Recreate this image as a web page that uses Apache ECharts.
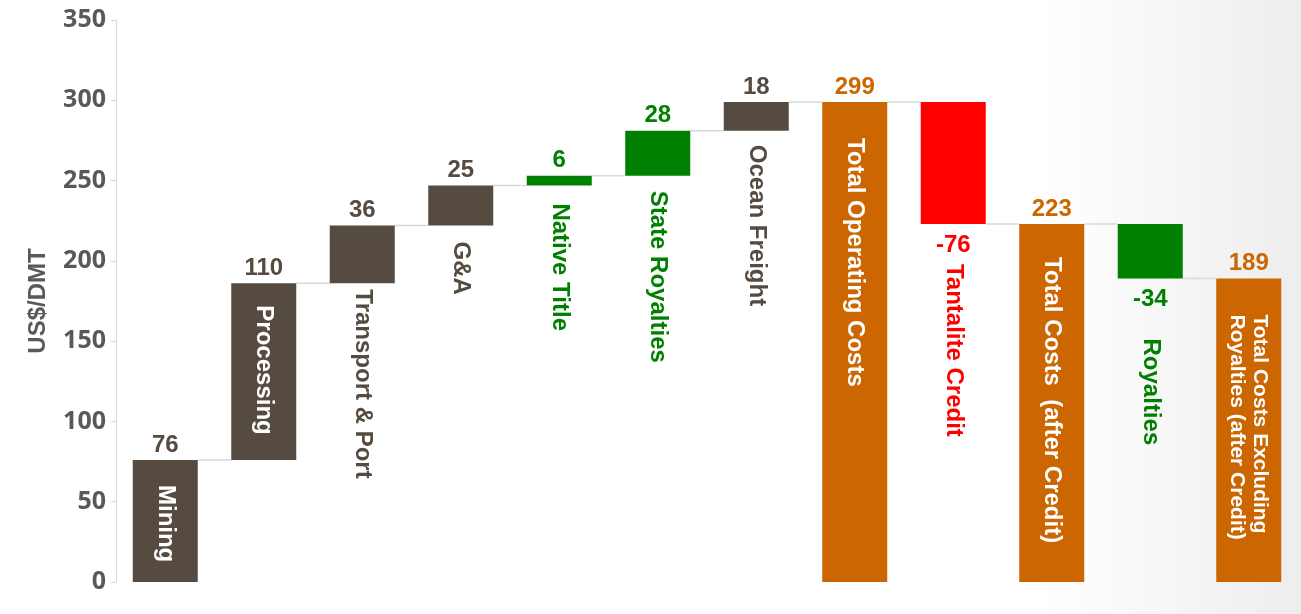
<!DOCTYPE html>
<html>
<head>
<meta charset="utf-8">
<script src="https://cdn.jsdelivr.net/npm/echarts@6/dist/echarts.min.js"></script>
<style>
    html, body { margin: 0; padding: 0; background: #fff; }
    #chart { width: 1301px; height: 614px; }
</style>
</head>
<body>
<div id="chart"></div>
<script>
    // 数据
    var categories = ['Mining', 'Processing', 'Transport & Port', 'G&A', 'Native Title', 'State Royalties',
        'Ocean Freight', 'Total Operating Costs', 'Tantalite Credit', 'Total Costs  (after Credit)',
        'Royalties', 'Total Costs Excluding\nRoyalties (after Credit)'];
    var amounts = [76, 110, 36, 25, 6, 28, 18, 299, -76, 223, -34, 189];
    var isTotal = [false, false, false, false, false, false, false, true, false, true, false, true];
    var yTicks = [0, 50, 100, 150, 200, 250, 300, 350];

    // 样式
    var BROWN = '#554b40', GREEN = '#008000', RED = '#ff0000', ORANGE = '#cc6600';
    var barColors = [BROWN, BROWN, BROWN, BROWN, GREEN, GREEN, BROWN, ORANGE, RED, ORANGE, GREEN, ORANGE];
    var labelInside = [true, true, false, false, false, false, false, true, false, true, false, true];
    var labelDist = [25, 22, 6, 16, 18, 15, 14, 36, 40, 33, 60, 36];
    var labelSize = [24, 24, 24, 24, 24, 24, 24, 24, 24, 24, 24, 21];
    var catFont = "'Liberation Sans', Arial, sans-serif";
    var valFont = "'Liberation Sans', Arial, sans-serif";

    // 瀑布图: 底座 + 可见柱 + 顶部
    var base = [], visible = [], cap = [], links = [];
    var run = 0;
    amounts.forEach(function (v, i) {
        var b, h;
        if (isTotal[i]) { b = 0; h = v; run = v; }
        else if (v >= 0) { b = run; h = v; run += v; }
        else { b = run + v; h = -v; run += v; }

        base.push(v < 0 ? {
            value: b,
            label: {
                show: true, position: 'insideTop', distance: 9,
                formatter: String(v), color: barColors[i],
                fontFamily: valFont, fontWeight: 'bold', fontSize: 24
            }
        } : b);

        visible.push({
            value: h,
            itemStyle: { color: barColors[i] },
            label: {
                show: true,
                formatter: '{b}',
                position: labelInside[i] ? 'insideTop' : 'bottom',
                distance: labelDist[i],
                rotate: -90,
                align: 'left',
                verticalAlign: 'middle',
                color: labelInside[i] ? '#fff' : barColors[i],
                fontFamily: catFont,
                fontWeight: 'bold',
                fontSize: labelSize[i],
                lineHeight: 23
            }
        });

        cap.push(v >= 0 ? {
            value: 0,
            label: {
                show: true, position: 'top', distance: 3,
                formatter: String(v), color: barColors[i],
                fontFamily: valFont, fontWeight: 'bold', fontSize: 24
            }
        } : 0);

        if (i < amounts.length - 1) links.push([i, run]);
    });

    var BAR_FRAC = 0.66;

    var option = {
        animation: false,
        backgroundColor: new echarts.graphic.LinearGradient(0, 0, 1, 0, [
            { offset: 0, color: '#ffffff' },
            { offset: 0.8, color: '#ffffff' },
            { offset: 1, color: '#ededed' }
        ]),
        grid: { left: 116, right: 3, top: 20, bottom: 32 },
        xAxis: {
            type: 'category',
            data: categories,
            axisLine: { show: false },
            axisTick: { show: false },
            axisLabel: { show: false }
        },
        yAxis: {
            type: 'value',
            min: yTicks[0],
            max: yTicks[yTicks.length - 1],
            interval: yTicks[1] - yTicks[0],
            name: 'US$/DMT',
            nameLocation: 'middle',
            nameGap: 66,
            nameTextStyle: { color: '#595959', fontSize: 24, fontWeight: 'bold', fontFamily: catFont },
            axisLine: { show: true, lineStyle: { color: '#d9d9d9', width: 1 } },
            axisTick: { show: true, length: 5, lineStyle: { color: '#d9d9d9' } },
            axisLabel: { color: '#595959', fontSize: 25, fontWeight: 'bold', fontFamily: "'Open Sans', 'DejaVu Sans', sans-serif", margin: 10 },
            splitLine: { show: false }
        },
        series: [
            {
                name: 'base', type: 'bar', stack: 'w', silent: true,
                barWidth: (BAR_FRAC * 100) + '%',
                itemStyle: { color: 'transparent' },
                data: base
            },
            {
                name: 'value', type: 'bar', stack: 'w',
                barWidth: (BAR_FRAC * 100) + '%',
                data: visible
            },
            {
                name: 'cap', type: 'bar', stack: 'w', silent: true,
                barWidth: (BAR_FRAC * 100) + '%',
                itemStyle: { color: 'transparent' },
                data: cap
            },
            {
                name: 'links', type: 'custom', silent: true, z: 1,
                data: links,
                renderItem: function (params, api) {
                    var p = api.coord([api.value(0), api.value(1)]);
                    var band = api.size([1, 0])[0];
                    var half = band * BAR_FRAC / 2;
                    return {
                        type: 'line',
                        shape: { x1: p[0] + half, y1: p[1], x2: p[0] + band - half, y2: p[1] },
                        style: { stroke: '#d9d9d9', lineWidth: 1.5 }
                    };
                }
            }
        ]
    };

    var myChart = echarts.init(document.getElementById('chart'));
    myChart.setOption(option);
</script>
</body>
</html>
